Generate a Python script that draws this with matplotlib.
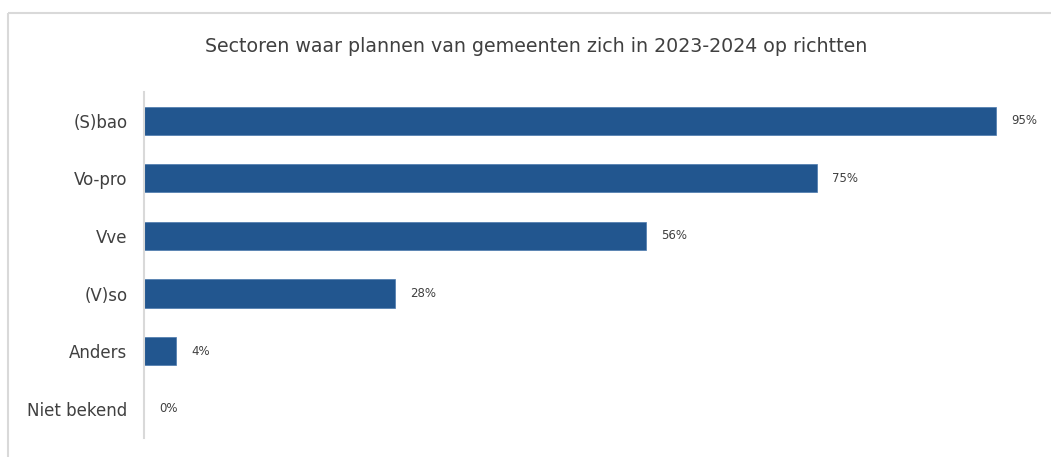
import matplotlib.pyplot as plt
from matplotlib.patches import Rectangle

plt.rcParams['font.family'] = ['DejaVu Sans']

# data
sectors = ['(S)bao', 'Vo-pro', 'Vve', '(V)so', 'Anders', 'Niet bekend']
percent = [95, 75, 56, 28, 3.6, 0]
labels = ['95%', '75%', '56%', '28%', '4%', '0%']

W, H = 1051, 457
fig = plt.figure(figsize=(W / 100, H / 100), dpi=100)

# light gray outer frame (runs off the right and bottom edges)
frame = Rectangle((8 / W, 1 - 13 / H), 1.2, -1.2, transform=fig.transFigure,
                  fill=False, edgecolor='#d9d9d9', linewidth=1.5)
fig.patches.append(frame)

ax = fig.add_axes([144 / W, 1 - 437.5 / H, (1041 - 144) / W, (437.5 - 92) / H])

y = list(range(len(sectors)))
ax.barh(y, percent, height=0.49, color='#22568f', edgecolor='#4a79ad', linewidth=0.5)
for yi, v, lab in zip(y, percent, labels):
    ax.text(v + 1.7, yi, lab, va='center', ha='left', fontsize=8.5, color='#404040')

ax.set_xlim(0, 100)
ax.set_ylim(len(sectors) - 0.5, -0.5)
ax.set_yticks(y)
ax.set_yticklabels(sectors, fontsize=12, color='#404040')
ax.tick_params(axis='y', length=0, pad=12)
ax.set_xticks([])
for s in ['top', 'right', 'bottom']:
    ax.spines[s].set_visible(False)
ax.spines['left'].set_color('#d9d9d9')
ax.spines['left'].set_linewidth(1.5)

fig.text(536 / W, 1 - 47 / H, 'Sectoren waar plannen van gemeenten zich in 2023-2024 op richtten',
         ha='center', va='center', fontsize=13.7, color='#404040')

plt.savefig('out.png', dpi=100)
plt.close()
